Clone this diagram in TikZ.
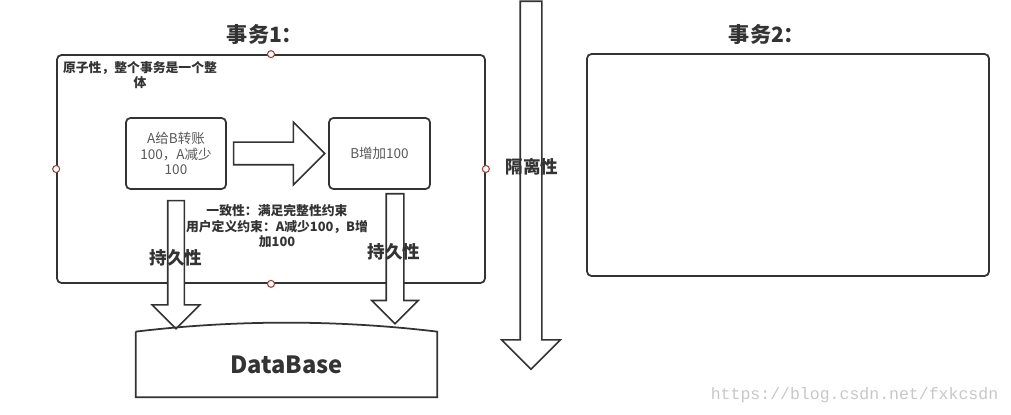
\documentclass[tikz,border=0pt]{standalone}
\usepackage{fontspec}
\setmainfont{Noto Sans CJK SC}
\newfontfamily\wmfont{Liberation Mono}
\usepackage{xcolor}
\usetikzlibrary{
    shapes,
    shapes.arrows,
    calc,
    positioning
}
\definecolor{ln}{HTML}{333333}
\definecolor{tx}{HTML}{595959}
\definecolor{rd}{HTML}{A83A3A}
\tikzset{tbox/.style={draw=ln, line width=1pt, rounded corners=2.5pt, inner sep=0pt},
    rdot/.style={inner sep=0pt, circle, draw=rd, fill=white, minimum size=0.14cm, line width=0.6pt},
    barrow/.style={single arrow, draw=ln, line width=0.9pt, fill=white, inner xsep=0pt, anchor=tail},
    btxt/.style={text=ln, font=\bfseries}}

\begin{document}
\begin{tikzpicture}[x=0.02cm, y=-0.02cm]
                        \useasboundingbox (0, 0) rectangle (1011, 415);

                        \node[tbox, minimum width=8.56cm, minimum height=4.56cm] (tx1) at (271, 169) {};
                        \node[tbox, minimum width=8.04cm, minimum height=4.44cm] (tx2) at (788, 165) {};

                        \node[btxt, font=\bfseries\fontsize{12}{14}\selectfont] (t1) at (265, 35) {事务1：};
                        \node[btxt, font=\bfseries\fontsize{12}{14}\selectfont] (t2) at (767, 35) {事务2：};

                        \node[btxt, font=\bfseries\fontsize{7.3}{8.5}\selectfont, align=center] (atom) at (140, 75) {原子性，整个事务是一个整\\体};

                        \node[tbox, text=tx, minimum width=2cm, minimum height=1.42cm, align=center, font=\fontsize{7.7}{9}\selectfont] (boxA) at (176, 153.5) {A给B转账\\100，A减少\\100};
                        \node[tbox, text=tx, minimum width=2.02cm, minimum height=1.42cm, font=\fontsize{7.7}{9}\selectfont] (boxB) at (379.5, 153.5) {B增加100};

                        \node[barrow, inner ysep=0.21cm, single arrow head extend=0.4cm, minimum height=1.82cm] (a2b) at ($(boxA.east)+(6, 0)$) {};

                        \node[barrow, rotate=-90, inner ysep=0.15cm, single arrow head extend=0.31cm, minimum height=2.56cm] (durA) at ($(boxA.south)+(0, 10)$) {};
                        \node[barrow, rotate=-90, inner ysep=0.16cm, single arrow head extend=0.29cm, minimum height=2.6cm] (durB) at (395, 193) {};
                        \node[barrow, rotate=-90, inner ysep=0.2cm, single arrow head extend=0.37cm, minimum height=7.36cm] (iso) at (531, 0.5) {};

                        \node[rdot] at (tx1.north) {};
                        \node[rdot] at (tx1.south) {};
                        \node[rdot] at (tx1.west) {};
                        \node[rdot] at (tx1.east) {};

                        \node[btxt, font=\bfseries\fontsize{7.3}{8.8}\selectfont, align=center] (cons) at (277, 226.5) {一致性：满足完整性约束\\用户定义约束：A减少100，B增\\加100};

                        \node[btxt, font=\bfseries\fontsize{10}{12}\selectfont] (pA) at (176, 258) {持久性};
                        \node[btxt, font=\bfseries\fontsize{10}{12}\selectfont] (pB) at (394, 252) {持久性};
                        \node[btxt, font=\bfseries\fontsize{10}{12}\selectfont] (pI) at (532, 167) {隔离性};

                        \node[btxt, font=\bfseries\fontsize{13.5}{15}\selectfont, minimum width=6.02cm, minimum height=1.3cm, inner sep=0pt] (db) at (286.5, 364.5) {DataBase};
                        \draw[ln, line width=1pt]
                        (db.north west) -- (db.south west) -- (db.south east) -- (db.north east)
                        .. controls ($(db.north east)+(-100, -12)$) and ($(db.north west)+(100, -12)$) .. (db.north west);

                        \node[text=black!22, font=\wmfont\fontsize{9.4}{11}\selectfont] (wm) at (854.5, 395) {https://blog.csdn.net/fxkcsdn};
                    \end{tikzpicture}
\end{document}
